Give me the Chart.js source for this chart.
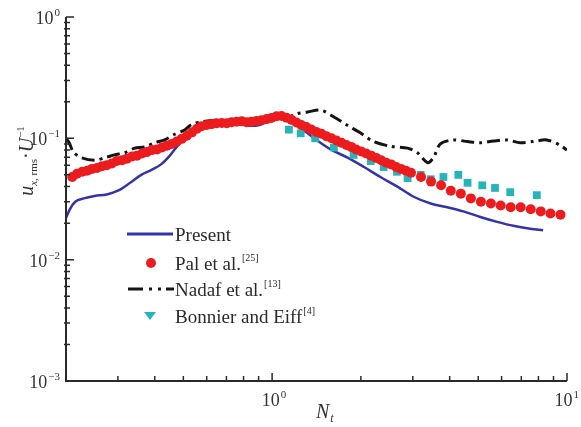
<!DOCTYPE html>
<html>
<head>
<meta charset="utf-8">
<script src="https://cdn.jsdelivr.net/npm/chart.js@4.4.0/dist/chart.umd.min.js"></script>
<style>
  html, body { margin: 0; padding: 0; background: #fff; }
  canvas { display: block; }
</style>
</head>
<body>
<canvas id="rms-chart" width="581" height="427"></canvas>
<script>
// u_x,rms / U against N_t

const presentN = [0.2, 0.206, 0.215, 0.23, 0.25, 0.275, 0.3, 0.33, 0.36, 0.39, 0.42, 0.45, 0.48, 0.51, 0.55, 0.61, 0.69, 0.77, 0.83, 0.88, 0.97, 1.07, 1.16, 1.26, 1.39, 1.58, 1.81, 2.05, 2.33, 2.66, 3.02, 3.45, 3.93, 4.45, 5.08, 5.8, 6.58, 7.5, 8.3];
const presentU = [0.022, 0.026, 0.030, 0.032, 0.0335, 0.0345, 0.037, 0.043, 0.050, 0.055, 0.061, 0.072, 0.088, 0.103, 0.120, 0.135, 0.140, 0.136, 0.127, 0.127, 0.138, 0.150, 0.139, 0.120, 0.100, 0.081, 0.069, 0.058, 0.048, 0.040, 0.033, 0.029, 0.027, 0.025, 0.0225, 0.0205, 0.019, 0.018, 0.0175];

const palN = [
    0.210, 0.218, 0.227, 0.236, 0.245, 0.255, 0.265, 0.275, 0.286, 0.297,
    0.310, 0.322, 0.335, 0.348, 0.362, 0.376, 0.391, 0.407, 0.423, 0.440,
    0.457, 0.475, 0.494, 0.514, 0.535, 0.556, 0.577, 0.600, 0.624, 0.649,
    0.675, 0.702, 0.729, 0.758, 0.789, 0.820, 0.851, 0.885, 0.921, 0.958,
    0.995, 1.035, 1.076, 1.119, 1.164, 1.210, 1.256, 1.306, 1.358, 1.412,
    1.469, 1.528, 1.589, 1.652, 1.718, 1.786, 1.854, 1.928, 2.005, 2.085,
    2.168, 2.254, 2.344, 2.437, 2.535, 2.635, 2.735, 2.845, 2.958, 3.199,
    3.459, 3.741, 4.036, 4.365, 4.721, 5.105, 5.521, 5.957, 6.442, 6.966,
    7.534, 8.147, 8.790, 9.506
];
const palU = [
    0.048, 0.051, 0.053, 0.054, 0.056, 0.057, 0.059, 0.060, 0.062, 0.065,
    0.066, 0.068, 0.071, 0.072, 0.075, 0.077, 0.080, 0.081, 0.084, 0.087,
    0.090, 0.094, 0.099, 0.105, 0.112, 0.120, 0.126, 0.129, 0.131, 0.133,
    0.134, 0.133, 0.136, 0.137, 0.138, 0.136, 0.137, 0.139, 0.141, 0.144,
    0.147, 0.152, 0.153, 0.148, 0.142, 0.135, 0.129, 0.124, 0.118, 0.113,
    0.109, 0.104, 0.100, 0.096, 0.092, 0.088, 0.085, 0.081, 0.078, 0.075,
    0.072, 0.069, 0.066, 0.063, 0.061, 0.058, 0.056, 0.054, 0.052, 0.048,
    0.044, 0.041, 0.037, 0.035, 0.032, 0.030, 0.029, 0.028, 0.027, 0.027,
    0.026, 0.025, 0.024, 0.0235
];

const nadafN = [0.2, 0.205, 0.212, 0.226, 0.25, 0.27, 0.292, 0.316, 0.342, 0.37, 0.4, 0.432, 0.467, 0.505, 0.533, 0.58, 0.657, 0.768, 0.85, 0.97, 1.1, 1.22, 1.32, 1.46, 1.62, 1.8, 1.99, 2.21, 2.52, 2.88, 3.11, 3.37, 3.53, 3.72, 4.12, 4.6, 5.08, 5.63, 6.26, 6.94, 7.66, 8.54, 9.45, 10];
const nadafU = [0.100, 0.092, 0.077, 0.069, 0.066, 0.069, 0.073, 0.076, 0.083, 0.085, 0.092, 0.097, 0.108, 0.117, 0.130, 0.137, 0.141, 0.134, 0.135, 0.150, 0.147, 0.160, 0.165, 0.171, 0.150, 0.128, 0.111, 0.094, 0.086, 0.083, 0.076, 0.063, 0.070, 0.090, 0.097, 0.094, 0.092, 0.095, 0.097, 0.092, 0.094, 0.097, 0.088, 0.080];

const bonnierN = [1.14, 1.25, 1.4, 1.62, 1.89, 2.16, 2.39, 2.65, 2.88, 3.19, 3.45, 3.81, 4.28, 4.6, 5.16, 5.7, 6.42, 7.9];
const bonnierU = [0.118, 0.110, 0.100, 0.084, 0.073, 0.065, 0.058, 0.053, 0.047, 0.050, 0.046, 0.048, 0.050, 0.043, 0.041, 0.039, 0.036, 0.034];

const xMajor = [1, 10];
const xMajorExp = ['0', '1'];
const yMajor = [1, 0.1, 0.01, 0.001];
const yMajorExp = ['0', '\u22121', '\u22122', '\u22123'];

const legendNames = ['Present', 'Pal et al.', 'Nadaf et al.', 'Bonnier and Eiff'];
const legendRefs = ['', '[25]', '[13]', '[4]'];

const SERIF = '"Liberation Serif", "Times New Roman", serif';
const BLUE = 'rgb(52, 52, 168)';
const RED = 'rgb(236, 28, 30)';
const CYAN = 'rgb(38, 180, 186)';
const BLACK = 'rgb(20, 20, 20)';
const DASHDOT = [13, 5, 3, 5];

function pairs(xs, ys) {
    return xs.map((x, i) => ({ x: x, y: ys[i] }));
}

// base text followed by a raised (or lowered) small text; returns end x
function drawWithScript(ctx, base, script, x, y, baseFont, scriptFont, shift) {
    ctx.font = baseFont;
    ctx.fillText(base, x, y);
    let w = ctx.measureText(base).width;
    if (script) {
        ctx.font = scriptFont;
        ctx.fillText(script, x + w + 1, y + shift);
        w += ctx.measureText(script).width + 1;
    }
    return x + w;
}

function scriptWidth(ctx, base, script, baseFont, scriptFont) {
    ctx.font = baseFont;
    let w = ctx.measureText(base).width;
    if (script) {
        ctx.font = scriptFont;
        w += ctx.measureText(script).width + 1;
    }
    return w;
}

const axesPlugin = {
    id: 'axesPlugin',
    afterDraw(chart) {
        const ctx = chart.ctx;
        const xs = chart.scales.x;
        const ys = chart.scales.y;
        const a = chart.chartArea;
        ctx.save();

        // axis lines, left and bottom only
        ctx.strokeStyle = '#2a2a2a';
        ctx.lineWidth = 2;
        ctx.beginPath();
        ctx.moveTo(a.left, a.top);
        ctx.lineTo(a.left, a.bottom);
        ctx.lineTo(a.right, a.bottom);
        ctx.stroke();

        // inward ticks
        ctx.lineWidth = 1.5;
        ctx.beginPath();
        for (let d = 0.1; d <= 10; d *= 10) {
            for (let m = 1; m <= 9; m++) {
                const v = m * d;
                if (v >= xs.min * 0.999 && v <= xs.max * 1.001) {
                    const px = xs.getPixelForValue(v);
                    const len = m === 1 ? 8 : 5;
                    ctx.moveTo(px, a.bottom);
                    ctx.lineTo(px, a.bottom - len);
                }
            }
        }
        for (let d = 0.001; d <= 1; d *= 10) {
            for (let m = 1; m <= 9; m++) {
                const v = m * d;
                if (v >= ys.min * 0.999 && v <= ys.max * 1.001) {
                    const py = ys.getPixelForValue(v);
                    const len = m === 1 ? 8 : 4;
                    ctx.moveTo(a.left - (m === 1 ? 0 : 2), py);
                    ctx.lineTo(a.left + len, py);
                }
            }
        }
        ctx.stroke();

        // tick labels
        const tickFont = '18px ' + SERIF;
        const supFont = '11px ' + SERIF;
        ctx.fillStyle = '#333';
        ctx.textBaseline = 'alphabetic';
        ctx.textAlign = 'left';
        xMajor.forEach((v, i) => {
            const px = xs.getPixelForValue(v);
            const w = scriptWidth(ctx, '10', xMajorExp[i], tickFont, supFont);
            let x0 = px - w / 2 + 2;
            if (x0 + w > chart.width - 2) x0 = chart.width - 2 - w;
            drawWithScript(ctx, '10', xMajorExp[i], x0, a.bottom + 25, tickFont, supFont, -8);
        });
        yMajor.forEach((v, i) => {
            const py = ys.getPixelForValue(v);
            const w = scriptWidth(ctx, '10', yMajorExp[i], tickFont, supFont);
            drawWithScript(ctx, '10', yMajorExp[i], a.left - 6 - w, py + 7, tickFont, supFont, -8);
        });

        // x title: N_t
        const italic = 'italic 20px ' + SERIF;
        const subItalic = 'italic 12px ' + SERIF;
        drawWithScript(ctx, 'N', 't', 316, 418, italic, subItalic, 4);

        // y title: u_{x, rms} . U^-1, rotated
        ctx.translate(33, 161);
        ctx.rotate(-Math.PI / 2);
        const subFont = '11px ' + SERIF;
        const parts = [
            ['u', italic, 0], ['x', 'italic 11px ' + SERIF, 4], [', rms', subFont, 4],
            ['\u00b7', '20px ' + SERIF, 0], ['U', italic, 0], ['\u22121', subFont, -9]
        ];
        let total = 0;
        parts.forEach(p => { ctx.font = p[1]; total += ctx.measureText(p[0]).width; });
        let cx = -total / 2;
        parts.forEach(p => {
            ctx.font = p[1];
            ctx.fillText(p[0], cx, p[2]);
            cx += ctx.measureText(p[0]).width;
        });
        ctx.restore();
    }
};

const legendPlugin = {
    id: 'legendPlugin',
    afterDraw(chart) {
        const ctx = chart.ctx;
        const rows = [234, 263, 289, 316];
        const textX = 175;
        ctx.save();

        // samples
        ctx.lineCap = 'butt';
        ctx.strokeStyle = BLUE;
        ctx.lineWidth = 3;
        ctx.beginPath();
        ctx.moveTo(127, rows[0]);
        ctx.lineTo(173, rows[0]);
        ctx.stroke();

        ctx.fillStyle = RED;
        ctx.beginPath();
        ctx.arc(151, rows[1], 5, 0, Math.PI * 2);
        ctx.fill();

        ctx.strokeStyle = BLACK;
        ctx.setLineDash([15, 6, 3, 6, 3, 5]);
        ctx.beginPath();
        ctx.moveTo(128, rows[2]);
        ctx.lineTo(174, rows[2]);
        ctx.stroke();
        ctx.setLineDash([]);

        ctx.fillStyle = CYAN;
        ctx.beginPath();
        ctx.moveTo(144, rows[3] - 4);
        ctx.lineTo(156, rows[3] - 4);
        ctx.lineTo(150, rows[3] + 4);
        ctx.closePath();
        ctx.fill();

        // names
        ctx.fillStyle = '#2a2a2a';
        ctx.textAlign = 'left';
        ctx.textBaseline = 'alphabetic';
        legendNames.forEach((name, i) => {
            drawWithScript(ctx, name, legendRefs[i], textX, rows[i] + 7, '19px ' + SERIF, '10px ' + SERIF, -9);
        });
        ctx.restore();
    }
};

function drawChart() {
    const ctx = document.getElementById('rms-chart').getContext('2d');
    return new Chart(ctx, {
        type: 'scatter',
        data: {
            datasets: [{
                label: 'Pal et al.',
                data: pairs(palN, palU),
                backgroundColor: RED,
                borderColor: RED,
                borderWidth: 0,
                pointRadius: 5,
                order: 0
            }, {
                label: 'Bonnier and Eiff',
                data: pairs(bonnierN, bonnierU),
                backgroundColor: CYAN,
                borderColor: CYAN,
                borderWidth: 0,
                pointStyle: 'rect',
                pointRadius: 5.5,
                order: 1
            }, {
                label: 'Present',
                data: pairs(presentN, presentU),
                showLine: true,
                borderColor: BLUE,
                borderWidth: 2.5,
                pointRadius: 0,
                tension: 0.4,
                cubicInterpolationMode: 'monotone',
                order: 2
            }, {
                label: 'Nadaf et al.',
                data: pairs(nadafN, nadafU),
                showLine: true,
                borderColor: BLACK,
                borderWidth: 3,
                borderDash: DASHDOT,
                pointRadius: 0,
                tension: 0.3,
                order: 3
            }]
        },
        options: {
            responsive: false,
            animation: false,
            layout: { padding: { left: 66, top: 17, right: 14, bottom: 46 } },
            scales: {
                x: { type: 'logarithmic', min: 0.2, max: 10, display: false },
                y: { type: 'logarithmic', min: 0.001, max: 1, display: false }
            },
            plugins: {
                legend: { display: false },
                tooltip: { enabled: false }
            }
        },
        plugins: [axesPlugin, legendPlugin]
    });
}

drawChart();
</script>
</body>
</html>
